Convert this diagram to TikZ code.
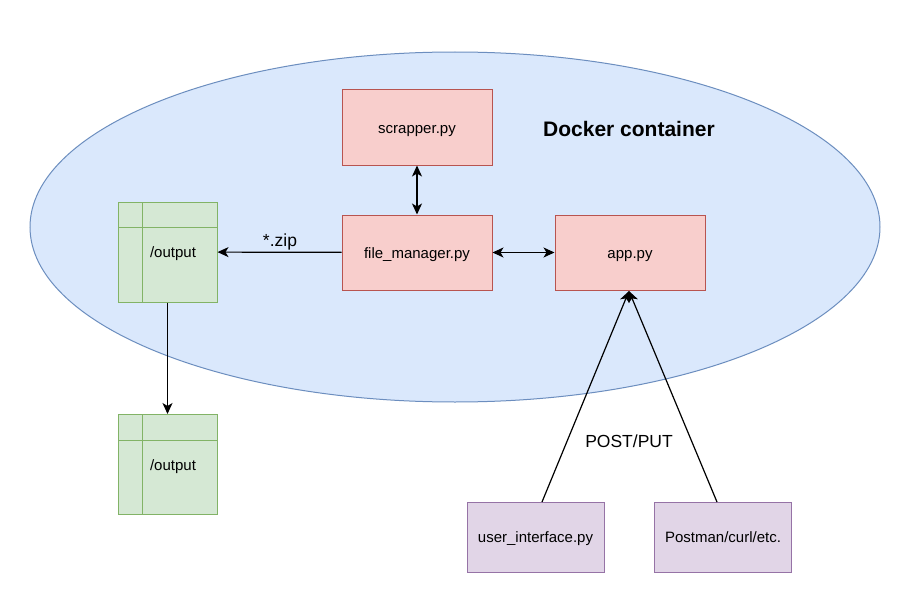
\documentclass[tikz,border=0pt]{standalone}
\usepackage{fontspec}
\setmainfont{Liberation Sans}
\usetikzlibrary{arrows.meta}
\definecolor{bfill}{HTML}{DAE8FC}\definecolor{bline}{HTML}{6C8EBF}
\definecolor{rfill}{HTML}{F8CECC}\definecolor{rline}{HTML}{B85450}
\definecolor{gfill}{HTML}{D5E8D4}\definecolor{gline}{HTML}{82B366}
\definecolor{pfill}{HTML}{E1D5E7}\definecolor{pline}{HTML}{9673A6}
\begin{document}
\begin{tikzpicture}[x=1pt,y=-1pt,
  every node/.style={font=\fontsize{15}{18}\selectfont},
  txt/.style={text height=15pt,text depth=4pt},
  lbl/.style={font=\fontsize{17.5}{21}\selectfont},
  redbox/.style={txt,draw=rline,fill=rfill,line width=1pt,minimum width=150pt,minimum height=75pt,inner sep=0pt},
  purbox/.style={txt,draw=pline,fill=pfill,line width=1pt,minimum width=137pt,minimum height=70pt,inner sep=0pt},
  grnbox/.style={draw=gline,fill=gfill,line width=1pt,minimum width=99pt,minimum height=100pt,inner sep=0pt},
  conn/.style={line width=1.2pt,-{Stealth[length=11pt,width=10pt,inset=3pt]}},
  bconn/.style={line width=1.2pt,{Stealth[length=11pt,width=10pt,inset=3pt]}-{Stealth[length=11pt,width=10pt,inset=3pt]}}]
\useasboundingbox (0,0) rectangle (914,610);
\fill[white] (0,0) rectangle (914,610);
\draw[bline,fill=bfill,line width=1pt] (455,227) ellipse [x radius=425, y radius=175];
\node[font=\fontsize{21}{25}\selectfont\bfseries] (dock) at (629,129) {Docker container};
\node[redbox] (scr) at (417,127.5) {scrapper.py};
\node[redbox] (fm) at (417,252.5) {file\_manager.py};
\node[redbox] (app) at (630,252.5) {app.py};
\node[grnbox] (out1) at (167.5,252) {};
\draw[gline,line width=1pt] (142,202) -- (142,302) (118,227) -- (217,227);
\node[txt] (t1) at (173,252) {/output};
\node[grnbox] (out2) at (167.5,464.5) {};
\draw[gline,line width=1pt] (142,414.5) -- (142,514.5) (118,440) -- (217,440);
\node[txt] (t2) at (173,465) {/output};
\node[purbox] (ui) at (535.5,537) {user\_interface.py};
\node[purbox] (pm) at (723,537) {Postman/curl/etc.};
\draw[bconn] (scr) -- (fm);
\draw[bconn] (fm) -- (app);
\draw[conn] (fm) -- (out1);
\node[lbl] (zip) at (280,242) {*.zip};
\draw[conn] (out1) -- (out2);
\coordinate (apin) at (629,291);
\draw[conn] (542,502) coordinate (uitop) -- (apin);
\draw[conn] (717,502) coordinate (pmtop) -- (apin);
\node[lbl] (pp) at (629,441) {POST/PUT};
\end{tikzpicture}
\end{document}
